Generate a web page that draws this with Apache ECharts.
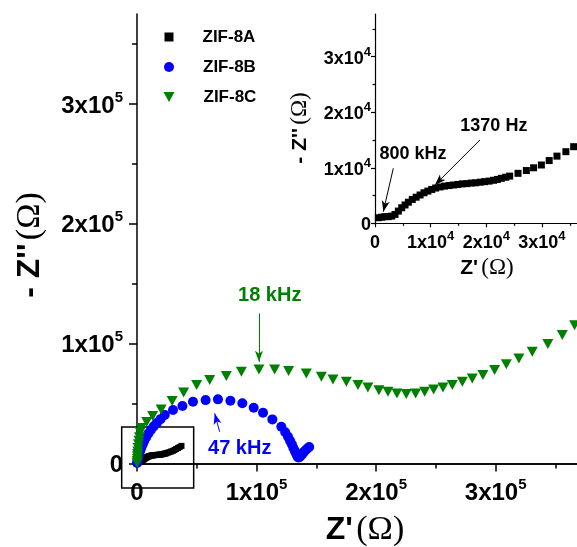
<!DOCTYPE html>
<html>
<head>
<meta charset="utf-8">
<script src="https://cdn.jsdelivr.net/npm/echarts@6/dist/echarts.min.js"></script>
<style>
  html, body { margin: 0; padding: 0; background: #fff; }
  #chart { width: 577px; height: 547px; }
</style>
</head>
<body>
<div id="chart"></div>
<script>
// Nyquist data, impedance in ohms: Z' (real) and -Z'' (imaginary)
const zif8aRe = [600, 1200, 1800, 2400, 3000, 3600, 4200, 4800, 5400, 6000, 6700, 7400, 8100, 8800, 9500,
  10200, 10900, 11700, 12500, 13300, 14100, 14900, 15700, 16500, 17300, 18100, 18900, 19700, 20500, 21300,
  22000, 22700, 23500, 24200, 25700, 27200, 28500, 29900, 31300, 32700, 34300, 35700, 37200];
const zif8aIm = [1000, 1100, 1200, 1200, 1300, 1600, 2200, 2800, 3300, 3800, 4300, 4700, 5100, 5500, 5800,
  6100, 6350, 6550, 6700, 6800, 6900, 7000, 7100, 7150, 7250, 7300, 7400, 7500, 7600, 7750,
  7900, 8100, 8300, 8500, 9000, 9500, 10000, 10500, 11300, 12100, 12900, 13800, 14700];

const zif8bRe = [100, 300, 600, 1000, 1500, 2100, 2800, 3700, 4800, 6100, 7700, 9500, 11600, 14000, 16700,
  19700, 23200, 30100, 38000, 46800, 57400, 67700, 78100, 88100, 97600, 105400, 113200, 120700, 124000, 126300,
  128000, 129500, 130800, 132000, 133000, 133800, 134500, 135200, 136000, 137000, 138200, 139500, 141000, 142500, 144000];
const zif8bIm = [400, 1500, 3000, 5000, 7000, 9000, 11000, 13500, 16000, 19000, 22000, 25000, 28000, 31000, 34000,
  37000, 40400, 44600, 47900, 51500, 52900, 53500, 52300, 50200, 46500, 42300, 36800, 30700, 26000, 22300,
  19000, 16000, 13000, 10500, 8500, 6800, 5500, 5000, 5500, 6500, 8000, 9500, 11000, 12500, 13700];

const zif8cRe = [100, 200, 300, 400, 500, 700, 900, 1200, 1600, 2100, 2700, 3500,
  8100, 13100, 20200, 29400, 39000, 49900, 60800, 74700, 87300, 102000, 115100, 126800, 141600, 154200, 163900,
  175100, 184800, 193100, 202300, 209900, 217400, 225200, 233000, 240600, 248100, 255900, 263700, 272100, 280400,
  289300, 299100, 308900, 319400, 330600, 343600, 355700, 366000];
const zif8cIm = [500, 2000, 4000, 6000, 8000, 10000, 13000, 16000, 19000, 22000, 26000, 29600,
  34600, 39600, 45000, 52100, 59200, 65400, 69600, 72900, 76500, 78500, 78500, 77100, 75100, 72300, 70100,
  68200, 65400, 63500, 61200, 59800, 58500, 57900, 58500, 59800, 61800, 63500, 65400, 68200, 71000,
  73750, 77900, 82700, 87700, 93200, 99600, 107300, 115400];

const seriesNames = ['ZIF-8A', 'ZIF-8B', 'ZIF-8C'];

// Axis ranges and ticks
const mainReRange = [0, 368000];
const mainImRange = [0, 375000];
const mainMajorTicks = [0, 100000, 200000, 300000];
const mainMinorTicks = [50000, 150000, 250000, 350000];
const insetReRange = [0, 36300];
const insetImRange = [0, 37700];
const insetMajorTicks = [0, 10000, 20000, 30000];
const insetMinorTicks = [5000, 15000, 25000, 35000];

// Frequency annotations (ohms): arrow tail, arrow head, label centre
const ann18kHz = { tail: [102000, 125200], head: [102000, 84800], text: [111000, 140400], label: '18 kHz' };
const ann47kHz = { tail: [69100, 26500], head: [65000, 41800], text: [85900, 12900], label: '47 kHz' };
const ann800kHz = { tail: [3290, 9910], head: [1490, 2090], text: [6820, 12490], label: '800 kHz' };
const ann1370Hz = { tail: [18850, 15000], head: [10770, 6900], text: [21360, 17530], label: '1370 Hz' };

// Region magnified in the inset (ohms)
const zoomBoxRe = [-12800, 47400];
const zoomBoxIm = [-20400, 30400];

const SANS = 'Liberation Sans, Arial, sans-serif';
const SERIF = 'Liberation Serif, Times New Roman, serif';
const GREEN = '#008000';
const BLUE = '#0000ff';
const DOWN_TRIANGLE = 'path://M0,0L10,0L5,9Z';

const zip = (xs, ys) => xs.map((x, i) => [x, ys[i]]);

function sciRich(big, small) {
  return {
    n: { fontFamily: SANS, fontWeight: 'bold', fontSize: big, color: '#000', lineHeight: big + 4, verticalAlign: 'bottom' },
    s: { fontFamily: SANS, fontWeight: 'bold', fontSize: small, color: '#000', lineHeight: small, verticalAlign: 'top' }
  };
}
function sciLabel(exp) {
  return v => v === 0 ? '{n|0}' : '{n|' + Math.round(v / Math.pow(10, exp)) + 'x10}{s|' + exp + '}';
}

function majorAxis(gridIndex, range, ticks, exp, opt) {
  return Object.assign({
    type: 'value', gridIndex, min: range[0], max: range[1],
    axisLine: { show: true, onZero: false, lineStyle: { color: '#000', width: opt.lw } },
    axisTick: { show: true, inside: false, length: opt.tick, customValues: ticks, lineStyle: { color: '#000', width: opt.lw } },
    axisLabel: { show: true, margin: opt.margin, customValues: ticks, formatter: sciLabel(exp), rich: sciRich(opt.fs, opt.sup) },
    splitLine: { show: false }
  }, opt.extra || {});
}
function minorAxis(gridIndex, range, ticks, opt) {
  return Object.assign({
    type: 'value', gridIndex, min: range[0], max: range[1],
    axisLine: { show: false, onZero: false },
    axisTick: { show: true, inside: false, length: opt.tick, customValues: ticks, lineStyle: { color: '#000', width: opt.lw } },
    axisLabel: { show: false },
    splitLine: { show: false }
  }, opt.extra || {});
}

function arrowLine(list, color) {
  return {
    silent: true, animation: false,
    symbol: ['none', 'arrow'], symbolSize: [6, 11],
    label: { show: false },
    lineStyle: { color, width: 1, type: 'solid', opacity: 1 },
    emphasis: { disabled: true },
    data: list.map(a => [{ coord: a.tail }, { coord: a.head }])
  };
}
function textPoint(list, color, size) {
  return {
    silent: true, animation: false,
    symbol: 'circle', symbolSize: 1,
    itemStyle: { color: 'rgba(0,0,0,0)' },
    label: { show: true, position: 'inside', color, fontFamily: SANS, fontWeight: 'bold', fontSize: size },
    data: list.map(a => ({ coord: a.text, label: { formatter: a.label } }))
  };
}

const chart = echarts.init(document.getElementById('chart'), null, { renderer: 'canvas' });

const mainTick = { lw: 1.5, tick: 8, margin: 14, fs: 24, sup: 15 };
const mainMinor = { lw: 1.5, tick: 5 };
const insetTick = { lw: 1.2, tick: 4, margin: 4, fs: 18, sup: 13 };
const insetMinor = { lw: 1.2, tick: 2.5 };

const legendText = { fontFamily: SANS, fontWeight: 'bold', fontSize: 17, color: '#000', lineHeight: 20 };

const option = {
  animation: false,
  backgroundColor: '#ffffff',
  grid: [
    { left: 137, top: 14, right: 0, bottom: 83.5, containLabel: false },
    { left: 375, top: 14, right: 0, bottom: 323.7, containLabel: false }
  ],
  xAxis: [
    majorAxis(0, mainReRange, mainMajorTicks, 5, Object.assign({}, mainTick, { extra: { position: 'bottom' } })),
    minorAxis(0, mainReRange, mainMinorTicks, Object.assign({}, mainMinor, { extra: { position: 'bottom' } })),
    {
      type: 'value', gridIndex: 0, position: 'top', min: mainReRange[0], max: mainReRange[1],
      axisLine: { show: true, lineStyle: { color: '#000', width: 1.5 } },
      axisTick: { show: false }, axisLabel: { show: false }, splitLine: { show: false }
    },
    majorAxis(1, insetReRange, insetMajorTicks, 4, Object.assign({}, insetTick, { margin: 7, extra: { position: 'bottom' } })),
    minorAxis(1, insetReRange, insetMinorTicks, Object.assign({}, insetMinor, { extra: { position: 'bottom' } }))
  ],
  yAxis: [
    majorAxis(0, mainImRange, mainMajorTicks, 5, Object.assign({}, mainTick, { extra: { position: 'left' } })),
    minorAxis(0, mainImRange, mainMinorTicks, Object.assign({}, mainMinor, { extra: { position: 'left' } })),
    majorAxis(1, insetImRange, insetMajorTicks, 4, Object.assign({}, insetTick, { extra: { position: 'left' } })),
    minorAxis(1, insetImRange, insetMinorTicks, Object.assign({}, insetMinor, { extra: { position: 'left' } }))
  ],
  legend: [
    { data: [seriesNames[0]], orient: 'vertical', left: 164.5, top: 27, padding: 0, selectedMode: false,
      icon: 'rect', itemWidth: 9, itemHeight: 9, textStyle: Object.assign({ padding: [0, 0, 0, 24] }, legendText) },
    { data: [seriesNames[1]], orient: 'vertical', left: 164, top: 57, padding: 0, selectedMode: false,
      icon: 'circle', itemWidth: 10, itemHeight: 10, textStyle: Object.assign({ padding: [0, 0, 0, 24] }, legendText) },
    { data: [seriesNames[2]], orient: 'vertical', left: 163.5, top: 87, padding: 0, selectedMode: false,
      icon: DOWN_TRIANGLE, itemWidth: 11, itemHeight: 10, textStyle: Object.assign({ padding: [0, 0, 0, 24] }, legendText) }
  ],
  series: [
    {
      name: seriesNames[0], type: 'scatter', xAxisIndex: 0, yAxisIndex: 0,
      symbol: 'rect', symbolSize: 6, itemStyle: { color: '#000', opacity: 1 },
      data: zip(zif8aRe, zif8aIm)
    },
    {
      name: seriesNames[1], type: 'scatter', xAxisIndex: 0, yAxisIndex: 0,
      symbol: 'circle', symbolSize: 10, itemStyle: { color: BLUE, opacity: 1 },
      data: zip(zif8bRe, zif8bIm),
      markLine: arrowLine([ann47kHz], BLUE),
      markPoint: textPoint([ann47kHz], BLUE, 20)
    },
    {
      name: seriesNames[2], type: 'scatter', xAxisIndex: 0, yAxisIndex: 0,
      symbol: DOWN_TRIANGLE, symbolSize: [11, 10], itemStyle: { color: GREEN, opacity: 1 },
      data: zip(zif8cRe, zif8cIm),
      markLine: arrowLine([ann18kHz], GREEN),
      markPoint: textPoint([ann18kHz], GREEN, 20)
    },
    {
      name: seriesNames[0], type: 'scatter', xAxisIndex: 3, yAxisIndex: 2,
      symbol: 'rect', symbolSize: 7, itemStyle: { color: '#000', opacity: 1 },
      data: zip(zif8aRe, zif8aIm),
      markLine: arrowLine([ann800kHz, ann1370Hz], '#000'),
      markPoint: textPoint([ann800kHz, ann1370Hz], '#000', 18)
    }
  ]
};

chart.setOption(option);

// Axis titles and the magnified-region frame
function titleText(x, y, size, rotation) {
  return {
    type: 'text', x, y, rotation, silent: true,
    style: {
      text: rotation ? "{b|- Z''} {o|(Ω)}" : "{b|Z'} {o|(Ω)}",
      align: 'center', verticalAlign: 'middle',
      rich: {
        b: { fontFamily: SANS, fontWeight: 'bold', fontSize: size, fill: '#000' },
        o: { fontFamily: SERIF, fontWeight: 'normal', fontSize: size + 2, fill: '#000' }
      }
    }
  };
}

const boxA = chart.convertToPixel({ xAxisIndex: 0, yAxisIndex: 0 }, [zoomBoxRe[0], zoomBoxIm[1]]);
const boxB = chart.convertToPixel({ xAxisIndex: 0, yAxisIndex: 0 }, [zoomBoxRe[1], zoomBoxIm[0]]);

chart.setOption({
  graphic: [
    titleText(365, 530, 32, 0),
    titleText(30, 245, 32, Math.PI / 2),
    titleText(487, 268, 21, 0),
    titleText(300, 128, 21, Math.PI / 2),
    {
      type: 'rect', silent: true,
      shape: { x: boxA[0], y: boxA[1], width: boxB[0] - boxA[0], height: boxB[1] - boxA[1] },
      style: { fill: 'none', stroke: '#000', lineWidth: 1.5 }
    }
  ]
});
</script>
</body>
</html>
